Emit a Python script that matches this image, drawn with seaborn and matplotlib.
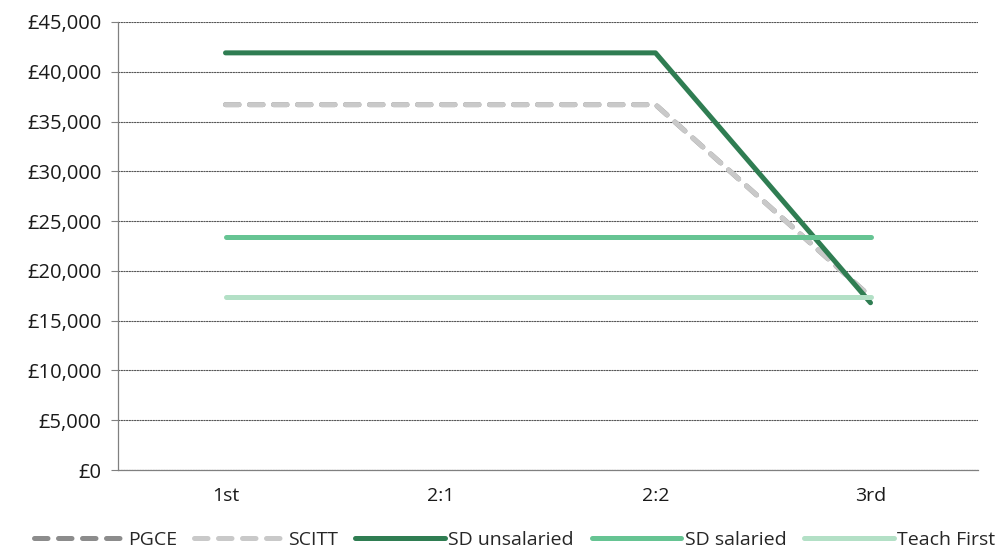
import pandas as pd
import matplotlib
matplotlib.use("Agg")
import matplotlib.pyplot as plt
from matplotlib.ticker import FuncFormatter, FixedLocator
import seaborn as sns

# degree classes and salary estimates per route
classes = ['1st', '2:1', '2:2', '3rd']
pgce = [36700, 36700, 36700, 17400]
scitt = [36700, 36700, 36700, 17400]
sd_unsalaried = [41900, 41900, 41900, 16800]
sd_salaried = [23400, 23400, 23400, 23400]
teach_first = [17400, 17400, 17400, 17400]

routes = ['PGCE', 'SCITT', 'SD unsalaried', 'SD salaried', 'Teach First']
series = [pgce, scitt, sd_unsalaried, sd_salaried, teach_first]

rows = []
for r, vals in zip(routes, series):
    for c, v in zip(classes, vals):
        rows.append({'cls': c, 'val': v, 'route': r})
df = pd.DataFrame(rows)

palette = {'PGCE': '#8c8c8c', 'SCITT': '#c9c9c9', 'SD unsalaried': '#2f7d52',
           'SD salaried': '#66c493', 'Teach First': '#b3e0c6'}
dashes = {'PGCE': (2.7, 2.1), 'SCITT': (2.7, 2.1), 'SD unsalaried': '',
          'SD salaried': '', 'Teach First': ''}

sns.set_style('white')
plt.rcParams['font.family'] = ['Open Sans', 'DejaVu Sans']
plt.rcParams['lines.dash_capstyle'] = 'round'
plt.rcParams['lines.solid_capstyle'] = 'round'

fig = plt.figure(figsize=(10.01, 5.54), dpi=100)
ax = fig.add_axes([118 / 1001, 1 - 470 / 554, (978 - 118) / 1001, (470 - 22) / 554])

sns.lineplot(data=df, x='cls', y='val', hue='route', style='route',
             palette=palette, dashes=dashes, hue_order=routes, style_order=routes,
             linewidth=3.6, sort=False, ax=ax)

ax.set_xlim(-0.5, 3.5)
ax.set_ylim(0, 45000)
ax.set_yticks(range(0, 45001, 5000))
ax.yaxis.set_major_formatter(FuncFormatter(lambda v, p: '£{:,.0f}'.format(v)))
ax.set_xticks(range(4))
ax.set_xticklabels(classes)
ax.xaxis.set_minor_locator(FixedLocator([-0.5, 0.5, 1.5, 2.5, 3.5]))
ax.tick_params(axis='x', which='major', length=0, pad=12, labelsize=14, colors='#1a1a1a')
ax.tick_params(axis='x', which='minor', length=7, width=0.8, color='#808080', direction='out')
ax.tick_params(axis='y', length=5, width=0.8, color='#808080', labelsize=14.5,
               labelcolor='#1a1a1a', left=True, pad=7)
ax.grid(axis='y', linestyle=(0, (1.2, 1.2)), color='#555555', linewidth=0.8)
ax.set_axisbelow(True)
for s in ['top', 'right']:
    ax.spines[s].set_visible(False)
for s in ['left', 'bottom']:
    ax.spines[s].set_color('#808080')
    ax.spines[s].set_linewidth(0.9)
ax.set_xlabel('')
ax.set_ylabel('')

handles, labels = ax.get_legend_handles_labels()
ax.legend(handles, labels, loc='center', bbox_to_anchor=(0.4616, -0.156),
          ncol=5, frameon=False, fontsize=14, handlelength=4.6, handletextpad=0.2,
          columnspacing=0.9, borderaxespad=0)

fig.savefig('out.png', dpi=100)
